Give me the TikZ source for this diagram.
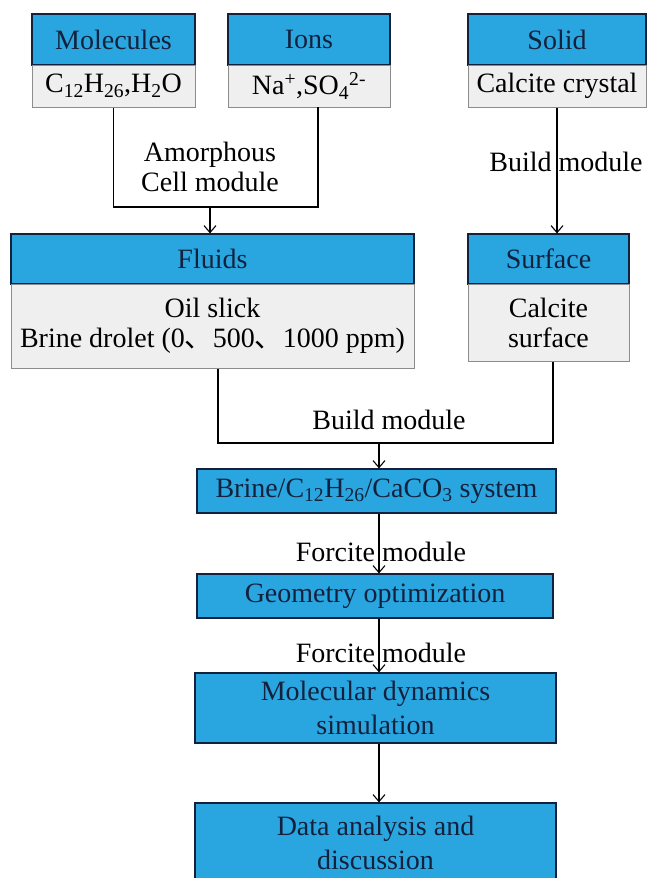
\documentclass[tikz,border=0pt]{standalone}
\usepackage{fontspec}
\setmainfont{Liberation Serif}
\newfontfamily\cjk{Noto Sans CJK SC}
\usetikzlibrary{arrows.meta}
\definecolor{headblue}{HTML}{29A6E0}
\definecolor{bodygray}{HTML}{EFEFEF}
\definecolor{edgegray}{HTML}{8C8C8C}
\definecolor{inkblue}{HTML}{14213D}

\begin{document}
\begin{tikzpicture}[x=1pt,y=-1pt,->,>={Straight Barb[length=7pt,width=12pt]},
  line width=1.1pt,font=\fontsize{28}{30}\selectfont,
  head node/.style={rectangle,draw=inkblue,fill=headblue,text=inkblue,
    inner sep=0pt,line width=1.2pt,align=center},
  body node/.style={rectangle,draw=edgegray,fill=bodygray,inner sep=0pt,
    align=center,line width=1pt}]
\useasboundingbox (0,0) rectangle (646,878);
% top row
\node[head node,minimum width=163pt,minimum height=51pt] (mol) at (113.5,39.5) {Molecules};
\node[body node,minimum width=163pt,minimum height=42pt] (molbody) at (113.5,86) {C\textsubscript{12}H\textsubscript{26},H\textsubscript{2}O};
\node[head node,minimum width=162pt,minimum height=51pt] (ion) at (309,39.5) {Ions};
\node[body node,minimum width=162pt,minimum height=42pt] (ionbody) at (309,86) {Na\textsuperscript{+},SO\textsubscript{4}\textsuperscript{2-}};
\node[head node,minimum width=178pt,minimum height=51pt] (sol) at (557,39.5) {Solid};
\node[body node,minimum width=178pt,minimum height=42pt] (solbody) at (557,86) {Calcite crystal};
% second row
\node[head node,minimum width=403pt,minimum height=50pt] (fluid) at (212.5,259) {Fluids};
\node[body node,minimum width=403pt,minimum height=84pt] (fluidbody) at (212.5,326) {Oil slick\\Brine drolet (0{\cjk 、}500{\cjk 、}1000 ppm)};
\node[head node,minimum width=161pt,minimum height=50pt] (surf) at (548.5,259) {Surface};
\node[body node,minimum width=161pt,minimum height=77pt] (surfbody) at (548.5,322.5) {Calcite\\surface};
% main chain
\node[head node,minimum width=359pt,minimum height=44pt] (sys) at (376.5,491) {Brine/C\textsubscript{12}H\textsubscript{26}/CaCO\textsubscript{3} system};
\node[head node,minimum width=356pt,minimum height=44pt] (geo) at (375,596) {Geometry optimization};
\node[head node,minimum width=361pt,minimum height=70pt] (md) at (375.5,708) {Molecular dynamics\\[4pt]simulation};
\node[head node,minimum width=361pt,minimum height=80pt] (data) at (375.5,843) {Data analysis and\\[4pt]discussion};

\coordinate (ionout) at (318,107);
\coordinate (m1) at (210,207);
\coordinate (m2) at (379,443);

\draw [-] (molbody.south) |- (m1) -| (ionout);
\draw (m1) -- (m1 |- fluid.north);
\node (amorph) at (210,167) [align=center] {Amorphous\\Cell module};

\draw (solbody.south) -- (solbody.south |- surf.north);
\node (build1) at (566,162) {Build module};

\draw [-] ([xshift=5.5pt]fluidbody.south) |- (m2) -| ([xshift=4.5pt]surfbody.south);
\draw (m2) -- (m2 |- sys.north);
\node (build2) at (389,420) {Build module};

\draw ([xshift=2.5pt]sys.south) -- ([xshift=2.5pt]sys.south |- geo.north);
\node (force1) at (381,552) {Forcite module};
\draw ([xshift=4pt]geo.south) -- ([xshift=4pt]geo.south |- md.north);
\node (force2) at (381,653) {Forcite module};
\draw ([xshift=3.5pt]md.south) -- ([xshift=3.5pt]md.south |- data.north);
\end{tikzpicture}
\end{document}
